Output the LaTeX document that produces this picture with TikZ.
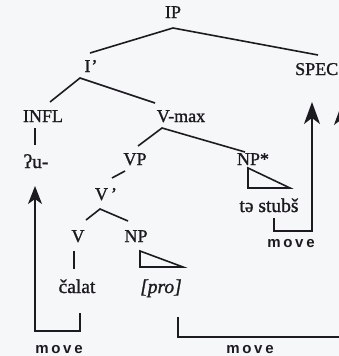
\documentclass[tikz,border=0pt]{standalone}
\usepackage{fontspec}
\setmainfont{Liberation Serif}[FakeBold=1.2]
\newfontfamily\movefont{Liberation Sans Bold}
\usetikzlibrary{arrows.meta}
\definecolor{ink}{RGB}{28,28,32}
\definecolor{paper}{RGB}{246,247,249}
\newcommand{\mv}{{\movefont m\kern2.7pt o\kern2.7pt v\kern2.7pt e}}
\tikzset{
  lab/.style={anchor=base, inner sep=0pt, text=ink, font=\fontsize{18}{20}\selectfont},
  gloss/.style={lab, font=\fontsize{19.5}{22}\selectfont},
  movelab/.style={anchor=base, inner sep=0pt, text=ink, font=\fontsize{15}{17}\selectfont},
  branch/.style={draw=ink, line width=1.6pt},
  trace/.style={draw=ink, line width=1.6pt},
  arr/.style={trace, -{Stealth[length=18pt, width=14pt, inset=5pt]}},
  bigarr/.style={trace, -{Stealth[length=22pt, width=16pt, inset=6pt]}},
}
\begin{document}
\begin{tikzpicture}[x=1pt, y=-1pt]
\fill[paper] (0,0) rectangle (339,356);
\useasboundingbox (0,0) rectangle (339,356);
\clip (0,0) rectangle (339,356);

% category labels
\node[lab] (ip)   at (173,18)  {IP};
\node[lab] (ibar) at (91,72)   {I\kern1pt'};
\node[lab, anchor=base west] (spec) at (295,75) {SPEC};
\node[lab] (infl) at (43,122)  {INFL};
\node[lab] (vmax) at (181,122) {V-max};
\node[gloss] (u)  at (36,168)  {ʔu-};
\node[lab] (vp)   at (135,165) {VP};
\node[lab] (npst) at (253,165) {NP*};
\node[lab] (vbar) at (106,200) {V\kern3pt'};
\node[lab] (v)    at (78,242)  {V};
\node[lab] (np)   at (136,242) {NP};
\node[gloss] (calat) at (77,293) {čalat};
\node[gloss] (pro)   at (161,293) {\textit{[pro]}};
\node[gloss] (stubs) at (269,212) {tə stubš};
\node[movelab] (mvA) at (59,353)  {\mv};
\node[movelab] (mvB) at (291,247) {\mv};
\node[movelab] (mvC) at (250,353) {\mv};

% branch end points
\coordinate (ip-b)   at (173,28);
\coordinate (ibar-t) at (90,53);
\coordinate (spec-t) at (318,55);
\coordinate (ibar-b) at (80,78);
\coordinate (infl-t) at (50,102);
\coordinate (vmax-t) at (155,103);
\coordinate (infl-b) at (35,128);
\coordinate (u-t)    at (35,145);
\coordinate (vmax-b) at (162,128);
\coordinate (vp-t)   at (138,146);
\coordinate (npst-t) at (245,152);
\coordinate (vp-b)   at (125,171);
\coordinate (vbar-t) at (112,178);
\coordinate (vbar-b) at (100,209);
\coordinate (v-t)    at (86,220);
\coordinate (np-t)   at (128,221);
\coordinate (v-b)    at (74,251);
\coordinate (calat-t) at (74,269);

% tree branches
\draw[branch] (ibar-t) -- (ip-b) -- (spec-t);
\draw[branch] (infl-t) -- (ibar-b) -- (vmax-t);
\draw[branch] (infl-b) -- (u-t);
\draw[branch] (vp-t) -- (vmax-b) -- (npst-t);
\draw[branch] (vp-b) -- (vbar-t);
\draw[branch] (v-t) -- (vbar-b) -- (np-t);
\draw[branch] (v-b) -- (calat-t);

% phrase triangles
\draw[branch, line join=miter] (248,168) -- (248,188) -- (290,188) -- cycle;
\draw[branch, line join=miter] (140,251) -- (140,267) -- (183,267) -- cycle;

% movement paths
\coordinate (a0) at (80,313);
\coordinate (a1) at (80,331);
\coordinate (a2) at (35,331);
\coordinate (a3) at (35,186);
\draw[arr] (a0) -- (a1) -- (a2) -- (a3);

\coordinate (b0) at (274,218);
\coordinate (b1) at (274,231);
\coordinate (b2) at (312,231);
\coordinate (b3) at (312,102);
\draw[bigarr] (b0) -- (b1) -- (b2) -- (b3);

\coordinate (c0) at (178,317);
\coordinate (c1) at (178,337);
\coordinate (c2) at (342,337);
\coordinate (c3) at (342,103);
\draw[bigarr] (c0) -- (c1) -- (c2) -- (c3);
\end{tikzpicture}
\end{document}
